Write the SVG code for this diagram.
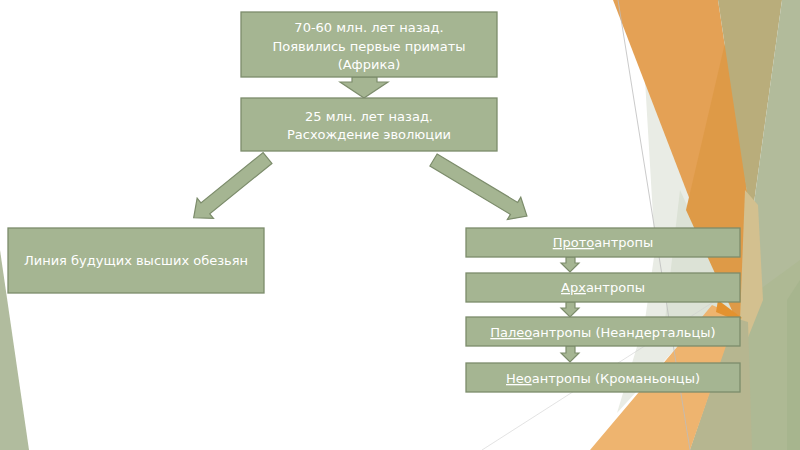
<svg xmlns="http://www.w3.org/2000/svg" width="800" height="450" viewBox="0 0 800 450">
<style>
.box{fill:#A5B592;stroke:#7C8C6B;stroke-width:1.3}
.arr{fill:#A5B592;stroke:#7C8C6B;stroke-width:1.2;stroke-linejoin:miter}
.t{font-family:"DejaVu Sans","Noto Sans",sans-serif;font-size:13px;fill:#FFFFFF;text-anchor:middle}
.u{text-decoration:underline}
</style>
<rect width="800" height="450" fill="#FFFFFF"/>
<g id="background">
<polygon points="0,250 29,450 0,450" fill="#B1BC9E"/>
<polygon points="645,80 738,317 677,347 617,413 645,320 655,250" fill="#E9ECE5"/>
<polygon points="680,190 738,317 677,347 665,320" fill="#DCE2D6"/>
<polygon points="613,0 718,0 748,200 742,320 735,317" fill="#E4A155"/>
<polygon points="728,30 748,200 742,320 735,317 686,210" fill="#DE9A47"/>
<polygon points="718,0 782,0 753,210 748,200" fill="#B9AD7B"/>
<polygon points="782,0 800,0 800,450 690,450 735,317 742,320 753,210" fill="#B2BB9B"/>
<polygon points="745,300 800,260 800,450 740,450" fill="#AEB994"/>
<polygon points="787,300 800,280 800,450 787,450" fill="#A7B58E"/>
<polygon points="745,190 758,205 763,300 745,345 740,320" fill="#D3C08F"/>
<polygon points="690,450 735,318 748,322 752,450" fill="#B6B690"/>
<polygon points="590,450 677,347 712,305 742,318 735,320 690,450" fill="#EEB46F"/>
<polygon points="718,300 742,318 735,320 716,312" fill="#E3922F"/>
<line x1="618" y1="0" x2="690" y2="450" stroke="#BDBDBD" stroke-width="0.8"/>
<line x1="482" y1="450" x2="740" y2="285" stroke="#D0D0D0" stroke-width="0.6"/>
</g>
<g id="connectors">
<path class="arr" d="M352,77 L377,77 L377,82 L388,82 L364,98 L340,82 L352,82 Z"/>
<path class="arr" transform="translate(267.5,158) rotate(141)" d="M0,-7 L80,-7 L80,-13 L95,0 L80,13 L80,7 L0,7 Z"/>
<path class="arr" transform="translate(433.5,160) rotate(31)" d="M0,-7 L94,-7 L94,-13 L109,0 L94,13 L94,7 L0,7 Z"/>
<path class="arr" d="M566,257 L575,257 L575,263 L579,263 L570,272 L561,263 L566,263 Z"/>
<path class="arr" d="M566,302 L575,302 L575,308 L579,308 L570,317 L561,308 L566,308 Z"/>
<path class="arr" d="M566,346 L575,346 L575,353 L579,353 L570,362 L561,353 L566,353 Z"/>
</g>
<g id="node-primates">
<rect class="box" x="241" y="12" width="256" height="65"/>
<text class="t" x="369" y="32">70-60 млн. лет назад.</text>
<text class="t" x="369" y="51">Появились первые приматы</text>
<text class="t" x="369" y="69">(Африка)</text>
</g>
<g id="node-divergence">
<rect class="box" x="241" y="98" width="256" height="53"/>
<text class="t" x="369" y="121">25 млн. лет назад.</text>
<text class="t" x="369" y="139">Расхождение эволюции</text>
</g>
<g id="node-apes">
<rect class="box" x="8" y="228" width="256" height="65"/>
<text class="t" x="136" y="265">Линия будущих высших обезьян</text>
</g>
<g id="node-proto">
<rect class="box" x="466" y="228" width="274" height="29"/>
<text class="t" x="603" y="247"><tspan class="u">Прото</tspan>антропы</text>
</g>
<g id="node-arch">
<rect class="box" x="466" y="273" width="274" height="29"/>
<text class="t" x="603" y="292"><tspan class="u">Арх</tspan>антропы</text>
</g>
<g id="node-paleo">
<rect class="box" x="466" y="317" width="274" height="29"/>
<text class="t" x="603" y="337"><tspan class="u">Палео</tspan>антропы (Неандертальцы)</text>
</g>
<g id="node-neo">
<rect class="box" x="466" y="363" width="274" height="29"/>
<text class="t" x="603" y="383"><tspan class="u">Нео</tspan>антропы (Кроманьонцы)</text>
</g>
</svg>
